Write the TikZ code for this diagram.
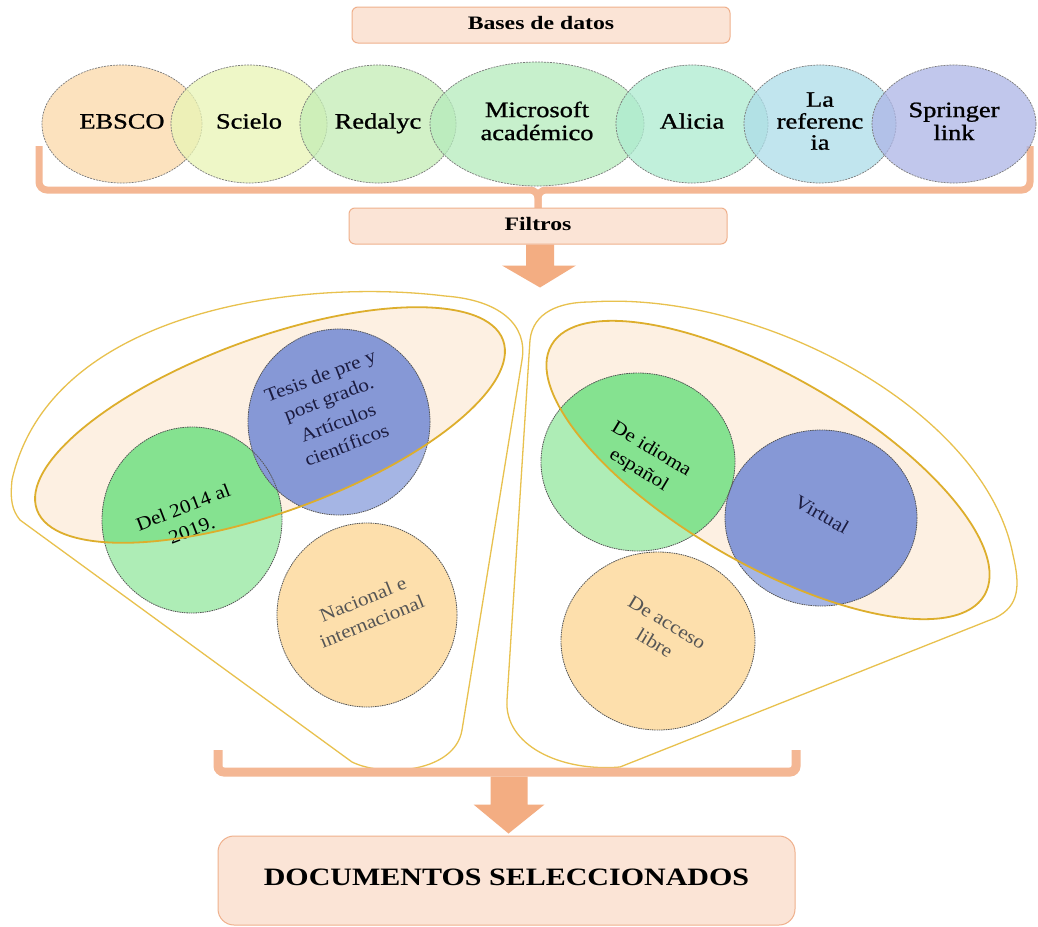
\documentclass[tikz,border=0pt]{standalone}
\usepackage{fontspec}
\setmainfont{Liberation Serif}
\newfontfamily\dbfont[FakeBold=0.9]{Liberation Serif}
\usepackage{graphicx}
\usetikzlibrary{shapes.geometric,calc}
\definecolor{boxfill}{HTML}{FBE4D6}
\definecolor{boxline}{HTML}{EFB08C}
\definecolor{brk}{HTML}{F4B794}
\definecolor{arr}{HTML}{F3AD82}
\definecolor{dbA}{HTML}{FBD9A9}
\definecolor{dbB}{HTML}{E9F5B5}
\definecolor{dbC}{HTML}{C4EDB5}
\definecolor{dbD}{HTML}{B5EBBC}
\definecolor{dbE}{HTML}{ADEBD0}
\definecolor{dbF}{HTML}{ADDDE9}
\definecolor{dbG}{HTML}{ADB5E6}
\definecolor{dbline}{HTML}{7A7A7A}
\definecolor{peach}{HTML}{FDF0E2}
\definecolor{gold}{HTML}{DDAE2C}
\definecolor{fanline}{HTML}{E8C14E}
\definecolor{gL}{HTML}{AEEDB6}
\definecolor{gD}{HTML}{85E290}
\definecolor{bL}{HTML}{A5B5E4}
\definecolor{bD}{HTML}{8698D6}
\definecolor{oL}{HTML}{FDDFAC}
\definecolor{cline}{HTML}{555555}
\definecolor{navy}{HTML}{1C1C40}
\definecolor{greytext}{HTML}{555555}
\newcommand\sx[2][1.2]{\scalebox{#1}[1]{\begin{tabular}{@{}c@{}}#2\end{tabular}}}
\begin{document}
\begin{tikzpicture}[x=1pt,y=-1pt,
  titlebox/.style={draw=boxline, line width=1pt, fill=boxfill, rounded corners=6pt, inner sep=0pt},
  db/.style={ellipse, draw=dbline, line width=0.7pt, dash pattern=on 2pt off 1pt, fill opacity=0.75, text opacity=1, inner sep=0pt, minimum height=118pt, font=\dbfont\fontsize{22}{23}\selectfont},
  fan/.style={draw=fanline, line width=1.3pt},
  ring/.style={draw=gold, line width=1.8pt},
  cborder/.style={draw=cline, line width=0.8pt, dash pattern=on 1.5pt off 0.8pt},
  ctext/.style={align=center, inner sep=0pt, font=\fontsize{19}{24}\selectfont},
  band/.style={draw=brk, line width=7pt, rounded corners=8pt},
  blockarrow/.style={fill=arr}
]
\fill[white] (0,0) rectangle (1038,926);
\useasboundingbox (0,0) rectangle (1038,926);

% ---------- fan outlines ----------
\draw[fan] (20,520) -- (352,762) .. controls (385,778) and (455,772) .. (462,730)
  -- (522,360) .. controls (528,325) and (500,300) .. (445,296)
  .. controls (300,278) and (50,310) .. (12,480)
  .. controls (10,500) and (12,510) .. cycle;
\draw[fan] (530,340) -- (507,700) .. controls (504,745) and (560,772) .. (620,767)
  -- (995,618) .. controls (1020,606) and (1020,585) .. (1013,555)
  .. controls (985,410) and (760,290) .. (590,302)
  .. controls (560,302) and (533,312) .. cycle;

% ---------- left group ----------
\fill[peach, rotate around={20:(270,425)}] (270,425) ellipse [x radius=248pt, y radius=87pt];
\fill[gL] (192,520) ellipse [x radius=90pt, y radius=93pt];
\fill[bL] (339,422) ellipse [x radius=91pt, y radius=93pt];
\fill[oL] (367,615) ellipse [x radius=90pt, y radius=92pt];
\begin{scope}
  \clip[rotate around={20:(270,425)}] (270,425) ellipse [x radius=248pt, y radius=87pt];
  \fill[gD] (192,520) ellipse [x radius=90pt, y radius=93pt];
  \fill[bD] (339,422) ellipse [x radius=91pt, y radius=93pt];
\end{scope}
\draw[cborder] (192,520) ellipse [x radius=90pt, y radius=93pt];
\draw[cborder] (339,422) ellipse [x radius=91pt, y radius=93pt];
\draw[cborder] (367,615) ellipse [x radius=90pt, y radius=92pt];
\node[ctext, rotate=21] (del) at (188,520) {\sx[1.12]{Del 2014 al\\2019.}};
\node[ctext, rotate=21, text=navy] (tesis) at (334,412) {\sx[1.12]{Tesis de pre y\\post grado.\\[2pt]Artículos\\científicos}};
\node[ctext, rotate=22, text=greytext] (nac) at (368,612) {\sx[1.12]{Nacional e\\internacional}};
\draw[ring, rotate around={20:(270,425)}] (270,425) ellipse [x radius=248pt, y radius=87pt];

% ---------- right group ----------
\fill[peach, rotate around={-30:(768,470)}] (768,470) ellipse [x radius=250pt, y radius=94pt];
\fill[gL] (638,462) ellipse [x radius=97pt, y radius=89pt];
\fill[bL] (821,518) ellipse [x radius=96pt, y radius=88pt];
\fill[oL] (658,641) ellipse [x radius=97pt, y radius=89pt];
\begin{scope}
  \clip[rotate around={-30:(768,470)}] (768,470) ellipse [x radius=250pt, y radius=94pt];
  \fill[gD] (638,462) ellipse [x radius=97pt, y radius=89pt];
  \fill[bD] (821,518) ellipse [x radius=96pt, y radius=88pt];
\end{scope}
\draw[cborder] (638,462) ellipse [x radius=97pt, y radius=89pt];
\draw[cborder] (821,518) ellipse [x radius=96pt, y radius=88pt];
\draw[cborder] (658,641) ellipse [x radius=97pt, y radius=89pt];
\node[ctext, rotate=-31] (idioma) at (645,460) {\sx[1.12]{De idioma\\español}};
\node[ctext, rotate=-30, text=navy] (virtual) at (821,516) {\sx[1.12]{Virtual}};
\node[ctext, rotate=-31, text=greytext] (acceso) at (660,634) {\sx[1.12]{De acceso\\libre}};
\draw[ring, rotate around={-30:(768,470)}] (768,470) ellipse [x radius=250pt, y radius=94pt];

% ---------- brackets ----------
\draw[band] (39,146) -- (39,190) -- (538,190) -- (538,210);
\draw[band] (1030,146) -- (1030,190) -- (538,190) -- (538,210);
\draw[band, line width=9pt, rounded corners=6pt] (218,750) -- (218,772) -- (796,772) -- (796,750);

% ---------- title boxes ----------
\node[titlebox, minimum width=378pt, minimum height=36pt, font=\fontsize{19}{20}\selectfont\bfseries] (bases) at (541,25) {\sx[1.25]{Bases de datos}};
\node[titlebox, minimum width=378pt, minimum height=36pt, font=\fontsize{19}{20}\selectfont\bfseries] (filtros) at (538,226) {\sx[1.25]{Filtros}};
\node[titlebox, rounded corners=16pt, minimum width=577pt, minimum height=89pt, font=\fontsize{25}{26}\selectfont\bfseries] (docs) at (506.5,880.5) {\sx[1.2]{DOCUMENTOS SELECCIONADOS}};

% ---------- block arrows ----------
\fill[blockarrow] ($(filtros.south)+(-12,0)$) -- ++(0,21) -- ++(-24,0) -- ($(filtros.south)+(2,43)$)
  -- ($(filtros.south)+(38,21)$) -- ++(-22,0) -- ($(filtros.south)+(16,0)$) -- cycle;
\fill[blockarrow] ($(docs.north)+(-16,-59)$) -- ++(0,28) -- ++(-17,0) -- ($(docs.north)+(2,-2)$)
  -- ($(docs.north)+(38,-31)$) -- ++(-17,0) -- ($(docs.north)+(21,-59)$) -- cycle;

% ---------- databases ----------
\node[db, fill=dbA, minimum width=160pt] (ebsco) at (122,124) {\sx{EBSCO}};
\node[db, fill=dbB, minimum width=156pt] (scielo) at (249,124) {\sx{Scielo}};
\node[db, fill=dbC, minimum width=156pt] (redalyc) at (378,124) {\sx{Redalyc}};
\node[db, fill=dbD, minimum width=214pt, minimum height=124pt] (msa) at (537,124) {\sx{Microsoft\\académico}};
\node[db, fill=dbE, minimum width=152pt] (alicia) at (692,124) {\sx{Alicia}};
\node[db, fill=dbF, minimum width=152pt] (laref) at (820,124) {\renewcommand\arraystretch{0.92}\sx{La\\referenc\\ia}};
\node[db, fill=dbG, minimum width=164pt] (springer) at (954,124) {\sx{Springer\\link}};
\end{tikzpicture}
\end{document}
